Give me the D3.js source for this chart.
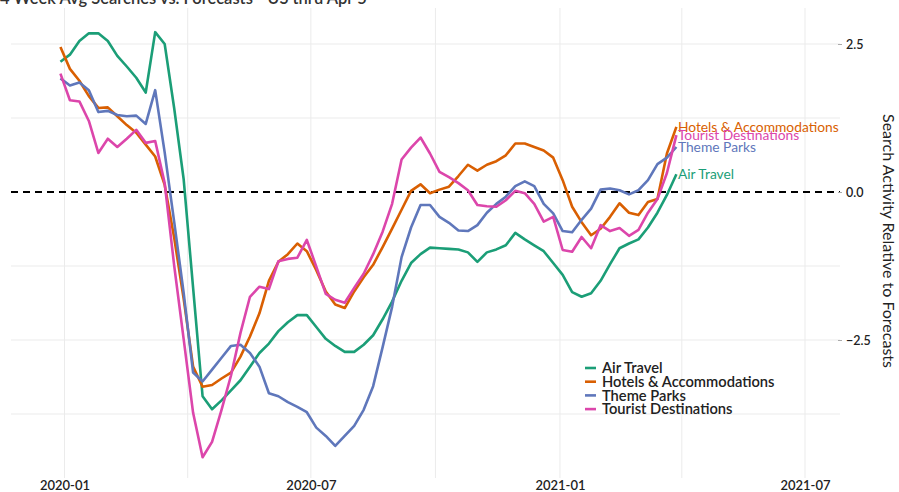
<!DOCTYPE html>
<html>
<head>
<meta charset="utf-8">
<script src="https://cdn.jsdelivr.net/npm/d3@7"></script>
<style>
  html, body { margin: 0; padding: 0; background: #fff; }
  svg { display: block; font-family: Lato, "Noto Sans", sans-serif; }
</style>
</head>
<body>
<svg id="chart" width="899" height="492"></svg>
<script>
// ---- data ----
const startWeek = "2019-12-29";          // first weekly observation
const nWeeks = 66;                        // weekly points through 2021-03-28
const seriesNames = ["Air Travel", "Hotels & Accommodations", "Theme Parks", "Tourist Destinations"];
const seriesColors = ["#1b9e77", "#d95f02", "#5f77bb", "#dc46ab"];

const airTravel = [2.2, 2.32, 2.55, 2.68, 2.68, 2.55, 2.3, 2.12, 1.93, 1.68,
  2.7, 2.5, 1.42, 0.22, -1.62, -3.45, -3.67, -3.52, -3.35, -3.18,
  -2.95, -2.72, -2.56, -2.35, -2.2, -2.08, -2.08, -2.28, -2.48, -2.6,
  -2.7, -2.7, -2.58, -2.42, -2.15, -1.85, -1.5, -1.2, -1.05, -0.94,
  -0.95, -0.96, -0.97, -1.02, -1.18, -1.02, -0.97, -0.9, -0.69, -0.8,
  -0.9, -1.0, -1.2, -1.4, -1.69, -1.77, -1.71, -1.5, -1.22, -0.95,
  -0.87, -0.8, -0.6, -0.35, -0.05, 0.3];
const hotels = [2.45, 2.08, 1.88, 1.62, 1.42, 1.43, 1.28, 1.13, 1.0, 0.8,
  0.6, 0.12, -0.77, -1.8, -2.95, -3.29, -3.26, -3.15, -3.05, -2.78,
  -2.44, -2.05, -1.5, -1.18, -1.05, -0.87, -1.0, -1.32, -1.68, -1.9,
  -1.96, -1.68, -1.44, -1.23, -0.93, -0.62, -0.3, 0.02, 0.13, -0.02,
  0.04, 0.09, 0.27, 0.46, 0.36, 0.46, 0.52, 0.62, 0.82, 0.82,
  0.76, 0.7, 0.58, 0.2, -0.25, -0.51, -0.73, -0.62, -0.42, -0.19,
  -0.35, -0.39, -0.17, -0.12, 0.65, 1.1];
const themeParks = [1.92, 1.8, 1.85, 1.72, 1.35, 1.37, 1.3, 1.28, 1.29, 1.15,
  1.72, 0.67, -0.5, -1.7, -3.05, -3.2, -3.0, -2.8, -2.6, -2.58,
  -2.72, -2.95, -3.4, -3.45, -3.55, -3.63, -3.72, -3.98, -4.12, -4.29,
  -4.12, -3.95, -3.68, -3.28, -2.62, -1.94, -1.1, -0.6, -0.22, -0.22,
  -0.42, -0.52, -0.65, -0.66, -0.56, -0.35, -0.2, -0.08, 0.1, 0.18,
  0.1, -0.2, -0.36, -0.66, -0.68, -0.47, -0.28, 0.04, 0.06, 0.03,
  -0.04, 0.03, 0.2, 0.47, 0.58, 0.76];
const tourist = [2.0, 1.55, 1.53, 1.2, 0.66, 0.9, 0.76, 0.9, 1.05, 0.83,
  0.86, 0.15, -1.24, -2.48, -3.73, -4.48, -4.22, -3.68, -3.1, -2.38,
  -1.77, -1.6, -1.64, -1.17, -1.13, -1.11, -0.81, -1.26, -1.72, -1.82,
  -1.87, -1.62, -1.38, -1.05, -0.67, -0.2, 0.55, 0.75, 0.92, 0.65,
  0.34, 0.25, 0.15, 0.03, -0.22, -0.24, -0.25, -0.14, 0.02, -0.02,
  -0.2, -0.5, -0.42, -0.98, -1.01, -0.76, -0.95, -0.56, -0.66, -0.61,
  -0.74, -0.64, -0.35, -0.12, 0.32, 0.96];
const seriesValues = [airTravel, hotels, themeParks, tourist];

const xTickLabels = ["2020-01", "2020-07", "2021-01", "2021-07"];
const yTickValues = [2.5, 0, -2.5];
const yGridValues = [2.5, 1.25, -1.25, -2.5, -3.75];
const titleText = "4 Week Avg Searches vs. Forecasts - US thru Apr 5";
const yTitle = "Search Activity Relative to Forecasts";

// ---- build ----
const parse = d3.utcParse("%Y-%m-%d");
const parseM = d3.utcParse("%Y-%m");
const dates = d3.utcWeek.range(parse(startWeek), d3.utcDay.offset(parse(startWeek), 7 * nWeeks));

const svg = d3.select("#chart");
const plotL = 11, plotR = 840, plotT = 8, plotB = 478;

const x = d3.scaleUtc()
  .domain([parseM("2020-01"), parseM("2021-07")])
  .range([64.5, 805]);
const y = d3.scaleLinear().domain([-2.5, 2.5]).range([340, 44]);

// vertical grid (quarters)
const gridDates = d3.utcMonth.every(3).range(parseM("2020-01"), parseM("2021-08"));
svg.append("g").selectAll("line").data(gridDates).join("line")
  .attr("x1", d => x(d)).attr("x2", d => x(d))
  .attr("y1", plotT).attr("y2", plotB)
  .attr("stroke", "#ebebeb").attr("stroke-width", 1);

// horizontal grid
svg.append("g").selectAll("line").data(yGridValues).join("line")
  .attr("x1", plotL).attr("x2", plotR)
  .attr("y1", d => y(d)).attr("y2", d => y(d))
  .attr("stroke", "#ebebeb").attr("stroke-width", 1);

// zero reference line
svg.append("line")
  .attr("x1", plotL).attr("x2", plotR)
  .attr("y1", y(0)).attr("y2", y(0))
  .attr("stroke", "#000").attr("stroke-width", 2)
  .attr("stroke-dasharray", "7,5");

// lines
const line = d3.line().x((d, i) => x(dates[i])).y(d => y(d));
svg.append("g").selectAll("path").data(seriesValues).join("path")
  .attr("d", d => line(d))
  .attr("fill", "none")
  .attr("stroke", (d, i) => seriesColors[i])
  .attr("stroke-width", 2.6)
  .attr("stroke-linejoin", "round");

// end labels
svg.append("g").selectAll("text").data(seriesValues).join("text")
  .attr("x", d => x(dates[d.length - 1]) + 1.5)
  .attr("y", d => y(d[d.length - 1]))
  .attr("dy", "0.35em")
  .attr("fill", (d, i) => seriesColors[i])
  .attr("font-size", 13.8)
  .text((d, i) => seriesNames[i]);

// x axis
const xAxis = d3.axisBottom(x)
  .tickValues(xTickLabels.map(parseM))
  .tickFormat(d3.utcFormat("%Y-%m"))
  .tickSize(0).tickPadding(0);
const gx = svg.append("g").attr("transform", `translate(0,480)`).call(xAxis);
gx.select(".domain").remove();
gx.selectAll("text").attr("font-family", "Lato, sans-serif").attr("font-size", 13)
  .attr("font-weight", 600)
  .attr("fill", "#222").attr("y", 10).attr("dy", 0);

// y axis (right)
const yAxis = d3.axisRight(y).tickValues(yTickValues).tickFormat(d3.format(".1f")).tickSize(4).tickPadding(4);
const gy = svg.append("g").attr("transform", `translate(${plotR - 2},0)`).call(yAxis);
gy.select(".domain").remove();
gy.selectAll("line").attr("stroke", "#aaa");
gy.selectAll("text").attr("font-family", "Lato, sans-serif").attr("font-size", 12.5)
  .attr("font-weight", 600).attr("fill", "#222");

// y title
svg.append("text")
  .attr("transform", `translate(883,241) rotate(90)`)
  .attr("text-anchor", "middle")
  .attr("font-size", 16)
  .attr("fill", "#222")
  .text(yTitle);

// title (cut off at top)
svg.append("text")
  .attr("x", 0).attr("y", 4)
  .attr("font-size", 16.5)
  .attr("font-weight", 600)
  .attr("fill", "#333")
  .text(titleText);

// legend
const lg = svg.append("g").attr("transform", "translate(585,368)");
const items = lg.selectAll("g").data(seriesNames).join("g")
  .attr("transform", (d, i) => `translate(0,${i * 13.7})`);
items.append("line").attr("x1", 0).attr("x2", 11).attr("y1", 0).attr("y2", 0)
  .attr("stroke", (d, i) => seriesColors[i]).attr("stroke-width", 2.6);
items.append("text").attr("x", 17).attr("dy", "0.35em")
  .attr("font-size", 14.7).attr("font-weight", 600).attr("fill", "#222").text(d => d);
</script>
</body>
</html>
